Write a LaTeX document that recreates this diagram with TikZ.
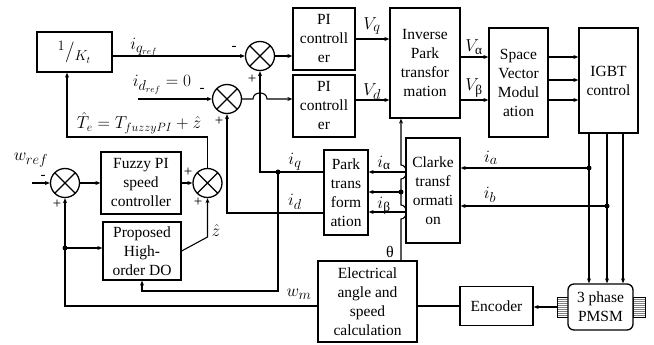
\documentclass[tikz,border=0pt]{standalone}
\usepackage{amsmath}
\usepackage{fontspec}
\setmainfont{Liberation Serif}
\usetikzlibrary{positioning, arrows.meta, calc}

\begin{document}
\begin{tikzpicture}[x=1pt, y=-1pt, line width=1.1pt,
    blk/.style={rectangle, draw, line width=1.3pt, align=center, inner sep=1pt, font=\fontsize{15.5}{19}\selectfont},
    sum/.style={circle, draw, line width=1.3pt, minimum size=29pt, inner sep=0pt,
        path picture={\draw[line width=1.1pt] (path picture bounding box.north west) -- (path picture bounding box.south east)
            (path picture bounding box.south west) -- (path picture bounding box.north east);}},
    stub/.style={rectangle, draw, line width=0.8pt, minimum width=11pt, minimum height=20pt, inner sep=0pt,
        path picture={\foreach \k in {-8,-6,...,8} \draw[gray, line width=0.5pt] ([yshift=\k pt]path picture bounding box.west) -- ([yshift=\k pt]path picture bounding box.east);}},
    arr/.style={-{Stealth[length=5pt, width=4pt]}},
    lbl/.style={font=\fontsize{19}{21}\selectfont, inner sep=0pt},
    sgn/.style={font=\fontsize{15}{15}\selectfont, inner sep=0pt},
    dot/.style={circle, fill, inner sep=0pt, minimum size=5pt}]
    \useasboundingbox (0,0) rectangle (654,345);

    \node[blk, minimum width=75pt, minimum height=40pt, font=\fontsize{20}{22}\selectfont] (kt) at (74.5,52) {$^{1}/_{K_t}$};
    \node[blk, minimum width=62pt, minimum height=62pt] (pi1) at (324,39) {PI\\controll\\er};
    \node[blk, minimum width=62pt, minimum height=62pt] (pi2) at (324,106) {PI\\controll\\er};
    \node[blk, minimum width=70pt, minimum height=110pt] (ipark) at (425,63) {Inverse\\Park\\transfor\\mation};
    \node[blk, minimum width=59pt, minimum height=109pt] (svm) at (518.5,82.5) {Space\\Vector\\Modul\\ation};
    \node[blk, minimum width=59pt, minimum height=105pt] (igbt) at (608.5,80.5) {IGBT\\control};
    \node[blk, minimum width=80pt, minimum height=62pt] (fuzzy) at (141,183) {Fuzzy PI\\speed\\controller};
    \node[blk, minimum width=78pt, minimum height=58pt] (hdo) at (142,251) {Proposed\\High-\\order DO};
    \node[blk, minimum width=44pt, minimum height=85pt] (park) at (346,192.5) {Park\\trans\\form\\ation};
    \node[blk, minimum width=54pt, minimum height=105pt] (clarke) at (433,190.5) {Clarke\\transf\\ormati\\on};
    \node[blk, minimum width=99pt, minimum height=81pt] (elec) at (367.5,301.5) {Electrical\\angle and\\speed\\calculation};
    \node[blk, minimum width=73pt, minimum height=39pt] (enc) at (496.5,306) {Encoder};
    \node[stub] (shl) at (562.5,307) {};
    \node[stub, minimum width=12pt] (shr) at (639,307) {};
    \node[blk, fill=white, rounded corners=6pt, minimum width=65pt, minimum height=46pt] (pmsm) at (600.5,307) {3 phase\\PMSM};

    \node[sum] (s1) at (260,56) {};
    \node[sum] (s2) at (227,99) {};
    \node[sum] (s3) at (207.5,183) {};
    \node[sum] (s4) at (65,183) {};

    \coordinate (idin) at (138,99);
    \coordinate (wrefin) at (32,183);
    \node[dot] (dq) at (278,172) {};
    \node[dot] (dw) at (65,248) {};
    \node[dot] (dth) at (401,192) {};
    \node[dot] (da) at (589,168) {};
    \node[dot] (db) at (607,206) {};

    \draw[arr] (kt.east |- s1) -- (s1);
    \draw[arr] (idin) -- (s2);
    \draw[arr] (s1) -- (pi1.west |- s1);
    \draw[arr] (s2) -- ($(s1.south |- s2)+(-7,0)$) .. controls +(0,-8) and +(0,-8) .. ($(s1.south |- s2)+(7,0)$) -- (pi2.west |- s2);
    \draw[arr] (pi1) -- (ipark.west |- pi1);
    \draw[arr] (pi2.east |- 0,100) -- (ipark.west |- 0,100);
    \draw[arr] (ipark.east |- 0,57) -- (svm.west |- 0,57);
    \draw[arr] (ipark.east |- 0,100) -- (svm.west |- 0,100);
    \foreach \y in {57,80,100} \draw[arr] (svm.east |- 0,\y) -- (igbt.west |- 0,\y);
    \foreach \x in {589,607,623} \draw[arr] (igbt.south -| \x,0) -- (pmsm.north -| \x,0);

    \draw[arr] (da.center) -- (clarke.east |- da);
    \draw[arr] (db.center) -- (clarke.east |- db);
    \draw[arr] (clarke.west |- 0,172) -- (park.east |- 0,172);
    \draw[arr] (clarke.west |- 0,212) -- (park.east |- 0,212);
    \draw[arr] (dth.center) -- (park.east |- dth);
    \draw[arr] (elec.north -| dth) -- (401,219) .. controls (408,219) and (408,205) .. (401,205) -- (401,179)
        .. controls (408,179) and (408,165) .. (401,165) -- (ipark.south -| dth);

    \draw[arr] (park.west |- dq) -- (s1.south |- dq) -- (s1.south);
    \draw[arr] (dq.center) -- (dq.center |- 0,291) -| (hdo.south);
    \draw[arr] (park.west |- 0,213) -- (s2.south |- 0,213) -- (s2.south);

    \draw[arr] (s3.north) -- (s3.north |- 0,137) -| ([xshift=-7.5pt]kt.south);
    \draw[arr] (wrefin) -- (s4);
    \draw[arr] (s4) -- (fuzzy);
    \draw[arr] (fuzzy) -- (s3);
    \draw[arr] (hdo.east) -- (s3.south |- 0,237) -- (s3.south);
    \draw[arr] (elec.west |- 0,306) -- (s4.south |- 0,306) -- (s4.south);
    \draw[arr] (dw.center) -- (hdo.west |- dw);
    \draw (enc.west |- 0,306) -- (elec.east |- 0,306);
    \draw[arr] (shl.west) -- (enc.east |- shl);

    \node[lbl] (liq) at (144,47) {$i_{q_{ref}}$};
    \node[lbl] (lid) at (162,85) {$i_{d_{ref}} = 0$};
    \node[lbl, font=\fontsize{17.5}{20}\selectfont] (lte) at (139,123) {$\hat{T}_e = T_{fuzzyPI} + \hat{z}$};
    \node[lbl] (lvq) at (372,26) {$V_q$};
    \node[lbl] (lvd) at (372,92) {$V_d$};
    \node[lbl] (lva) at (474,47) {$V_{\text{α}}$};
    \node[lbl] (lvb) at (474,88) {$V_{\text{β}}$};
    \node[lbl] (lia) at (491,158) {$i_a$};
    \node[lbl] (lib) at (490,195) {$i_b$};
    \node[lbl] (lqq) at (295,162) {$i_q$};
    \node[lbl] (ldd) at (295,202) {$i_d$};
    \node[lbl] (lal) at (384,163) {$i_{\text{α}}$};
    \node[lbl] (lbe) at (384,206) {$i_{\text{β}}$};
    \node[lbl, font=\fontsize{16}{18}\selectfont] (lth) at (390,252) {θ};
    \node[lbl] (lz) at (216,230) {$\hat{z}$};
    \node[lbl] (lwm) at (299,294) {$w_m$};
    \node[lbl] (lwr) at (31,160) {$w_{ref}$};

    \node[sgn] (m1) at (234,48) {-};
    \node[sgn] (p1) at (252,79) {+};
    \node[sgn] (m2) at (202,90) {-};
    \node[sgn] (p2) at (219,121) {+};
    \node[sgn] (p3) at (188,172) {+};
    \node[sgn] (p4) at (198,202) {+};
    \node[sgn] (m4) at (43,177) {-};
    \node[sgn] (p5) at (57,204) {+};
\end{tikzpicture}
\end{document}
